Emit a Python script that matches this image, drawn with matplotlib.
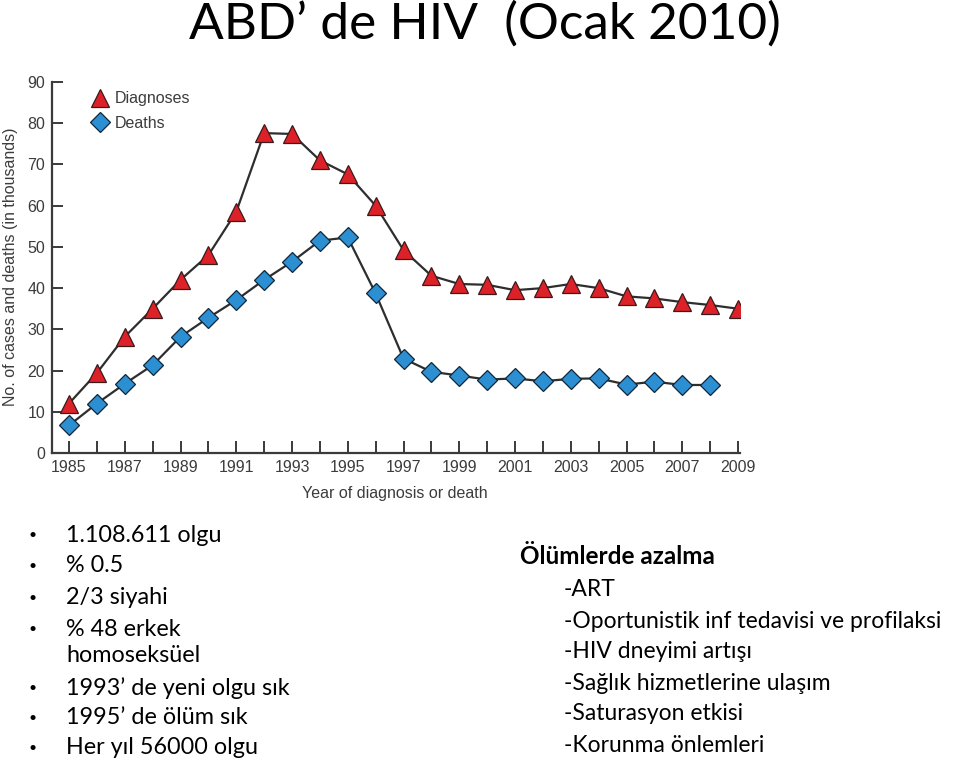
import matplotlib
matplotlib.use("Agg")
import matplotlib.pyplot as plt
from matplotlib.lines import Line2D

years_diag = list(range(1985, 2010))
diagnoses = [12, 19.4, 28.2, 35, 42, 48, 58.5, 77.6, 77.4, 71, 67.6, 60, 49.2, 43, 41, 40.8, 39.5, 40, 41, 40, 38, 37.5, 36.6, 35.9, 35]
years_death = list(range(1985, 2009))
deaths = [6.7, 12, 16.8, 21.3, 28.2, 32.8, 37.1, 42, 46.4, 51.5, 52.3, 38.7, 22.9, 19.7, 18.8, 17.8, 18.1, 17.4, 18, 18.1, 16.6, 17.3, 16.5, 16.5]
xtick_labels = list(range(1985, 2010, 2))
yticks = list(range(0, 100, 10))

title = "ABD’ de HIV  (Ocak 2010)"
left_lines = [("1.108.611 olgu", True), ("% 0.5", True), ("2/3 siyahi", True),
              ("% 48 erkek", True), ("homoseksüel", False), ("1993’ de yeni olgu sık", True),
              ("1995’ de ölüm sık", True), ("Her yıl 56000 olgu", True)]
right_head = "Ölümlerde azalma"
right_lines = ["-ART", "-Oportunistik inf tedavisi ve profilaksi", "-HIV dneyimi artışı",
               "-Sağlık hizmetlerine ulaşım", "-Saturasyon etkisi", "-Korunma önlemleri"]

W, H = 960, 762
fig = plt.figure(figsize=(W / 100, H / 100), dpi=100)

def fx(px):
    return px / W

def fy(py):
    return 1 - py / H

# axes geometry
x0_px, x1_px = 52, 740
y0_px, y1_px = 453, 82
ax = fig.add_axes([fx(x0_px), fy(y0_px), (x1_px - x0_px) / W, (y0_px - y1_px) / H])
ppy = 27.875
ax.set_xlim(1985 - 17 / ppy, 1985 - 17 / ppy + (x1_px - x0_px) / ppy)
ax.set_ylim(0, 90)

axis_col = "#3a3a3a"
txt_col = "#3c3c3c"
line_col = "#2e2e2e"
red = "#dc2128"
blue = "#2b8fd2"

ax.plot(years_diag, diagnoses, color=line_col, lw=1.6, marker="^", ms=13,
        markerfacecolor=red, markeredgecolor="#3a1a1a", markeredgewidth=0.9, zorder=3)
ax.plot(years_death, deaths, color=line_col, lw=1.6, marker="D", ms=10.5,
        markerfacecolor=blue, markeredgecolor="#10263a", markeredgewidth=0.9, zorder=3)

for s in ["top", "right"]:
    ax.spines[s].set_visible(False)
for s in ["left", "bottom"]:
    ax.spines[s].set_color(axis_col)
    ax.spines[s].set_linewidth(1.6)

tick_fs = 11.5
ax.set_xticks(years_diag)
ax.set_xticklabels([str(y) if y in xtick_labels else "" for y in years_diag])
ax.set_yticks(yticks)
ax.tick_params(axis="x", direction="in", length=9, width=1.4, color=axis_col,
               labelsize=tick_fs, labelcolor=txt_col, pad=5)
ax.tick_params(axis="y", direction="in", length=8, width=1.4, color=axis_col,
               labelsize=tick_fs, labelcolor=txt_col, pad=5)
for lab in ax.get_xticklabels() + ax.get_yticklabels():
    lab.set_family("Liberation Sans")

ax.set_xlabel("Year of diagnosis or death", family="Liberation Sans", fontsize=tick_fs,
              color=txt_col)
ax.set_ylabel("No. of cases and deaths (in thousands)", family="Liberation Sans",
              fontsize=tick_fs, color=txt_col)
ax.xaxis.set_label_coords((395 - x0_px) / (x1_px - x0_px), -(486 - y0_px) / (y0_px - y1_px))
ax.yaxis.set_label_coords(-(x0_px - 18) / (x1_px - x0_px), (453 - 267) / (y0_px - y1_px))

handles = [Line2D([], [], ls="none", marker="^", ms=13, markerfacecolor=red,
                  markeredgecolor="#3a1a1a", markeredgewidth=0.9),
           Line2D([], [], ls="none", marker="D", ms=10.5, markerfacecolor=blue,
                  markeredgecolor="#10263a", markeredgewidth=0.9)]
leg = ax.legend(handles, ["Diagnoses", "Deaths"], loc="upper left",
                bbox_to_anchor=((78 - x0_px) / (x1_px - x0_px), 1.0 + 5 / 371),
                frameon=False, handlelength=1.0, handletextpad=0.4, labelspacing=0.6,
                prop={"family": "Liberation Sans", "size": tick_fs})
for t in leg.get_texts():
    t.set_color(txt_col)

body_font = ["Lato", "DejaVu Sans"]
fig.text(fx(485), fy(24), title, ha="center", va="center", fontsize=37,
         family=body_font, color="black")

left_fs = 16.8
left_y = [535, 566, 598, 629, 655, 688, 718, 748]
for (txt, bullet), yy in zip(left_lines, left_y):
    if bullet:
        fig.text(fx(33), fy(yy), "•", ha="center", va="center", fontsize=10,
                 family=body_font, color="black")
    fig.text(fx(66), fy(yy), txt, ha="left", va="center", fontsize=left_fs,
             family=body_font, color="black")

right_fs = 16.5
fig.text(fx(520), fy(557), right_head, ha="left", va="center", fontsize=17.5,
         family=body_font, weight="bold", color="black")
right_y = [590, 621, 652, 684, 714, 745]
for txt, yy in zip(right_lines, right_y):
    fig.text(fx(564), fy(yy), txt, ha="left", va="center", fontsize=right_fs,
             family=body_font, color="black")

fig.savefig("out.png", dpi=100, facecolor="white")
